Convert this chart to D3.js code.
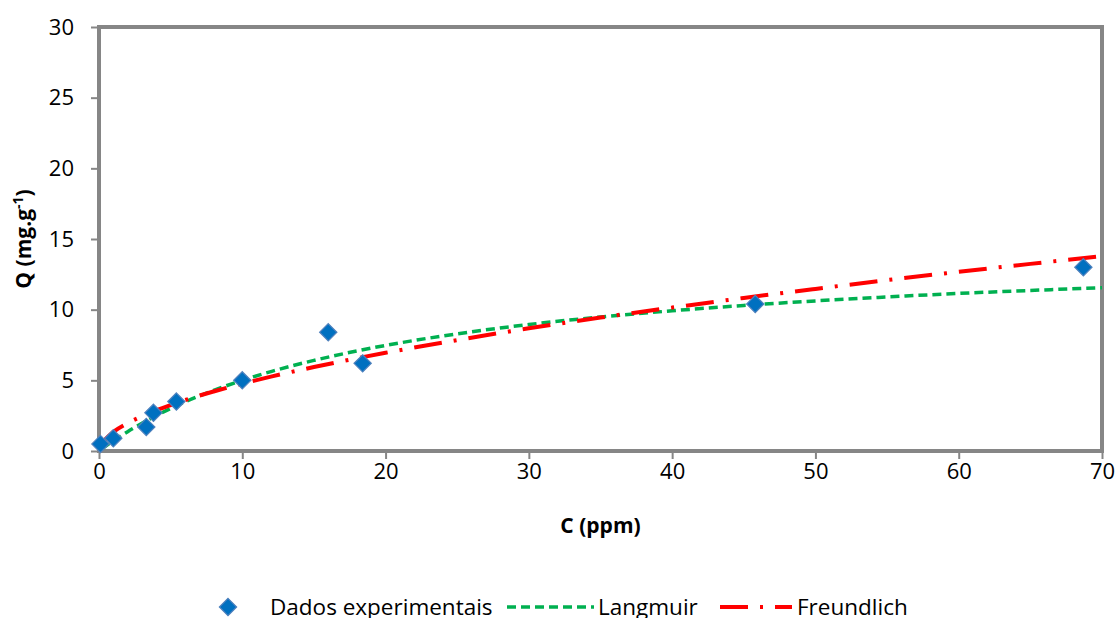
<!DOCTYPE html>
<html>
<head>
<meta charset="utf-8">
<script src="https://cdn.jsdelivr.net/npm/d3@7"></script>
<style>
  body { margin: 0; background: #fff; }
  svg text { font-family: "Open Sans", "Liberation Sans", sans-serif; fill: #000; }
</style>
</head>
<body>
<div id="chart"></div>
<script>
// experimental points
var expC = [0.1, 1.0, 3.3, 3.8, 5.4, 10.0, 16.0, 18.4, 45.8, 68.7];
var expQ = [0.5, 0.9, 1.7, 2.7, 3.5, 5.0, 8.4, 6.2, 10.4, 13.0];

// fitted curves
var fitC = [0.2, 1, 2, 3, 4, 5, 6, 8, 10, 12, 15, 18, 20, 25, 30, 35, 40, 45, 50, 55, 60, 65, 70];
var langmuirQ = [0.15, 0.72, 1.37, 1.96, 2.51, 3.01, 3.47, 4.29, 5.00, 5.62, 6.41, 7.08, 7.47, 8.29, 8.95, 9.48, 9.92, 10.30, 10.62, 10.90, 11.15, 11.36, 11.55];
var freundlichQ = [0.56, 1.35, 1.97, 2.46, 2.88, 3.25, 3.60, 4.21, 4.76, 5.26, 5.94, 6.56, 6.95, 7.85, 8.68, 9.44, 10.15, 10.83, 11.47, 12.09, 12.68, 13.24, 13.79];

var xTicks = [0, 10, 20, 30, 40, 50, 60, 70];
var yTicks = [0, 5, 10, 15, 20, 25, 30];
var legendNames = ["Dados experimentais", "Langmuir", "Freundlich"];

var W = 1118, H = 618;
var pLeft = 99, pRight = 1102, pTop = 27, pBottom = 451;
var grey = "#868686";

var svg = d3.select("#chart").append("svg")
    .attr("width", W)
    .attr("height", H);

var x = d3.scaleLinear().domain([0, 70]).range([pLeft, pRight]);
var y = d3.scaleLinear().domain([0, 30]).range([pBottom, pTop]);

var xAxis = svg.append("g")
    .attr("transform", "translate(0," + pBottom + ")")
    .call(d3.axisBottom(x).tickValues(xTicks).tickSize(8).tickPadding(4).tickFormat(d3.format("d")));
var yAxis = svg.append("g")
    .attr("transform", "translate(" + pLeft + ",0)")
    .call(d3.axisLeft(y).tickValues(yTicks).tickSize(8).tickPadding(17).tickFormat(d3.format("d")));

[xAxis, yAxis].forEach(function(a) {
    a.select(".domain").remove();
    a.selectAll(".tick line").attr("stroke", grey).attr("stroke-width", 2);
    a.selectAll(".tick text").style("font-size", "22px").attr("fill", "#000");
});

// plot frame
svg.append("rect")
    .attr("x", pLeft).attr("y", pTop)
    .attr("width", pRight - pLeft).attr("height", pBottom - pTop)
    .attr("fill", "none")
    .attr("stroke", grey)
    .attr("stroke-width", 4);

// fitted lines
var line = d3.line().curve(d3.curveMonotoneX);

svg.append("path")
    .datum(fitC.map(function(c, i) { return [x(c), y(langmuirQ[i])]; }))
    .attr("d", line)
    .attr("fill", "none")
    .attr("stroke", "#00b050")
    .attr("stroke-width", 3.5)
    .attr("stroke-dasharray", "9,5");

svg.append("path")
    .datum(fitC.map(function(c, i) { return [x(c), y(freundlichQ[i])]; }))
    .attr("d", line)
    .attr("fill", "none")
    .attr("stroke", "#ff0000")
    .attr("stroke-width", 4)
    .attr("stroke-dasharray", "28,12,3,12");

// experimental markers
var diamond = d3.symbol().type(d3.symbolDiamond2).size(190);
svg.selectAll(".pt")
    .data(expC)
    .enter().append("path")
    .attr("class", "pt")
    .attr("d", diamond)
    .attr("transform", function(c, i) { return "translate(" + x(c) + "," + y(expQ[i]) + ")"; })
    .attr("fill", "#0070c0")
    .attr("stroke", "#4f81bd")
    .attr("stroke-width", 1.2);

// axis titles
svg.append("text")
    .attr("x", (pLeft + pRight) / 2)
    .attr("y", 533)
    .attr("text-anchor", "middle")
    .style("font-size", "21px")
    .style("font-weight", "bold")
    .text("C (ppm)");

var yt = svg.append("text")
    .attr("transform", "translate(31," + ((pTop + pBottom) / 2) + ") rotate(-90)")
    .attr("text-anchor", "middle")
    .style("font-size", "21px")
    .style("font-weight", "bold");
yt.append("tspan").text("Q (mg.g");
yt.append("tspan").attr("dy", -8).style("font-size", "14px").text("-1");
yt.append("tspan").attr("dy", 8).text(")");

// legend
var ly = 607;
var lg = svg.append("g");
lg.append("path")
    .attr("d", diamond)
    .attr("transform", "translate(228," + ly + ")")
    .attr("fill", "#0070c0")
    .attr("stroke", "#4f81bd")
    .attr("stroke-width", 1.2);
lg.append("text").attr("x", 270).attr("y", ly + 8).style("font-size", "22.5px").text(legendNames[0]);

lg.append("line")
    .attr("x1", 507).attr("x2", 594).attr("y1", ly).attr("y2", ly)
    .attr("stroke", "#00b050").attr("stroke-width", 3.5).attr("stroke-dasharray", "9,5");
lg.append("text").attr("x", 598).attr("y", ly + 8).style("font-size", "22.5px").text(legendNames[1]);

lg.append("line")
    .attr("x1", 720).attr("x2", 792).attr("y1", ly).attr("y2", ly)
    .attr("stroke", "#ff0000").attr("stroke-width", 4).attr("stroke-dasharray", "28,12,3,12");
lg.append("text").attr("x", 797).attr("y", ly + 8).style("font-size", "22.5px").text(legendNames[2]);
</script>
</body>
</html>
